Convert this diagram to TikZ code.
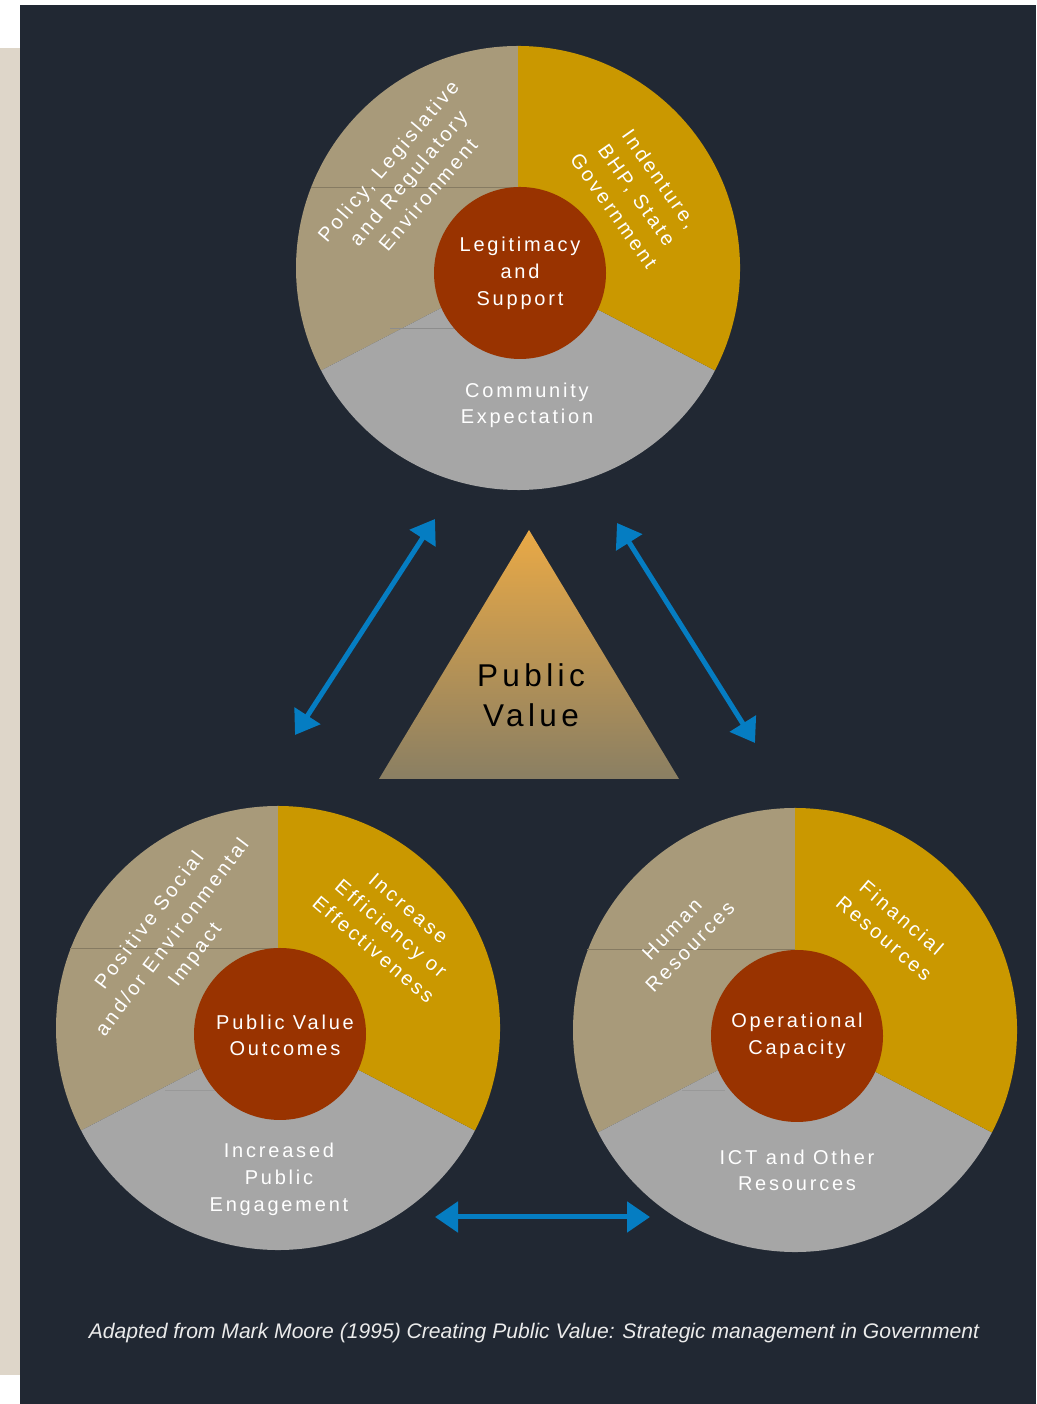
\documentclass[tikz,border=0pt]{standalone}
\usepackage{fontspec}
\setmainfont{Liberation Sans}
\newfontfamily\trackedfont[LetterSpace=14]{Liberation Sans}
\usetikzlibrary{arrows.meta}

\definecolor{pagedark}{RGB}{33,40,51}
\definecolor{stripbeige}{RGB}{222,214,201}
\definecolor{tanpart}{RGB}{168,154,122}
\definecolor{goldpart}{RGB}{202,152,0}
\definecolor{greypart}{RGB}{166,166,166}
\definecolor{corered}{RGB}{153,51,0}
\definecolor{linkblue}{RGB}{5,125,194}
\definecolor{pvtop}{RGB}{233,169,70}
\definecolor{pvbottom}{RGB}{138,127,99}

\tikzset{
  core/.style={circle,fill=corered,minimum size=172pt,inner sep=0pt,text=white,
    align=center,font=\trackedfont\fontsize{20}{27}\selectfont},
  seglabel/.style={inner sep=0pt,text=white,align=center,
    font=\trackedfont\fontsize{20}{26}\selectfont},
  link/.style={linkblue,line width=5pt,
    {Triangle[length=23pt,width=30pt]}-{Triangle[length=23pt,width=30pt]}},
  seam/.style={line width=1pt}
}

\begin{document}
\begin{tikzpicture}[x=1pt,y=1pt]
\pgfmathsetmacro{\R}{222}
\pgfmathsetmacro{\aone}{90}
\pgfmathsetmacro{\atwo}{207.5}
\pgfmathsetmacro{\athree}{332.5}
  % page
  \useasboundingbox (0,0) rectangle (1036,1404);
  \fill[white] (0,0) rectangle (1036,1404);
  \fill[stripbeige] (0,29) rectangle (20,1356);
  \fill[pagedark] (20,0) rectangle (1036,1399);
  % wheel centres
  \coordinate (topw) at (518,1136);
  \coordinate (leftw) at (278,376);
  \coordinate (rightw) at (795,374);
  \foreach \w in {topw,leftw,rightw}{
    \fill[tanpart] (\w) -- ++(\aone:\R) arc[start angle=\aone,end angle=\atwo,radius=\R] -- cycle;
    \fill[greypart] (\w) -- ++(\atwo:\R) arc[start angle=\atwo,end angle=\athree,radius=\R] -- cycle;
    \fill[goldpart] (\w) -- ++(\athree:\R) arc[start angle=\athree,end angle=450,radius=\R] -- cycle;
  }
  % faint seams
  \draw[seam,color=tanpart!80!black] (311,1216) -- (518,1216);
  \draw[seam,color=greypart!85!black] (390,1075) -- (455,1075);
  \draw[seam,color=tanpart!80!black] (70,455) -- (278,455);
  \draw[seam,color=greypart!92!black] (165,313) -- (215,313);
  \draw[seam,color=tanpart!80!black] (587,454) -- (795,454);
  \draw[seam,color=greypart!92!black] (682,313) -- (725,313);
  % top wheel
  \node[core] (legit) at (520,1131) {Legitimacy\\and\\Support};
  \node[seglabel,rotate=49.6] (policy) at (408,1226) {Policy, Legislative\\and Regulatory\\Environment};
  \node[seglabel,rotate=-55,font=\trackedfont\fontsize{20}{28}\selectfont] (indenture) at (637,1209) {Indenture,\\BHP, State\\Government};
  \node[seglabel] (community) at (527,999) {Community\\Expectation};
  % left wheel
  \node[core] (outcomes) at (280,370) {};
  \node[seglabel] (outcometxt) at (285,369) {Public Value\\Outcomes};
  \node[seglabel,rotate=53,font=\trackedfont\fontsize{20}{28.5}\selectfont] (positive) at (173,466) {Positive Social\\and/or Environmental\\Impact};
  \node[seglabel,rotate=-40.4,font=\trackedfont\fontsize{20}{27}\selectfont] (efficiency) at (391,475) {Increase\\Efficiency or\\Effectiveness};
  \node[seglabel,font=\trackedfont\fontsize{20}{27}\selectfont] (engagement) at (279,225) {Increased\\Public\\Engagement};
  % right wheel
  \node[core] (capacity) at (797,368) {Operational\\Capacity};
  \node[seglabel,rotate=46,font=\trackedfont\fontsize{20}{25}\selectfont] (human) at (681,466) {Human\\Resources};
  \node[seglabel,rotate=-40.5,font=\trackedfont\fontsize{20}{27}\selectfont] (financial) at (893,476) {Financial\\Resources};
  \node[seglabel] (ict) at (797,234) {ICT and Other\\Resources};
  % public value triangle
  \shade[top color=pvtop,bottom color=pvbottom] (379,625) -- (529,874) -- (679,625) -- cycle;
  \node[inner sep=0pt,align=center,font=\trackedfont\fontsize{31.5}{40}\selectfont] (pv) at (531,709) {Public\\Value};
  % links between wheels
  \coordinate (lnkAs) at (295,669);
  \coordinate (lnkAe) at (435,885);
  \coordinate (lnkBs) at (617,881);
  \coordinate (lnkBe) at (755,661);
  \coordinate (lnkCs) at (435,187);
  \coordinate (lnkCe) at (650,187);
  \draw[link] (lnkAs) -- (lnkAe);
  \draw[link] (lnkBs) -- (lnkBe);
  \draw[link] (lnkCs) -- (lnkCe);
  % source
  \node[inner sep=0pt,text=white!92!black,font=\itshape\fontsize{21.1}{24}\selectfont] (source) at (534,71)
    {Adapted from Mark Moore (1995) Creating Public Value: Strategic management in Government};
\end{tikzpicture}
\end{document}
